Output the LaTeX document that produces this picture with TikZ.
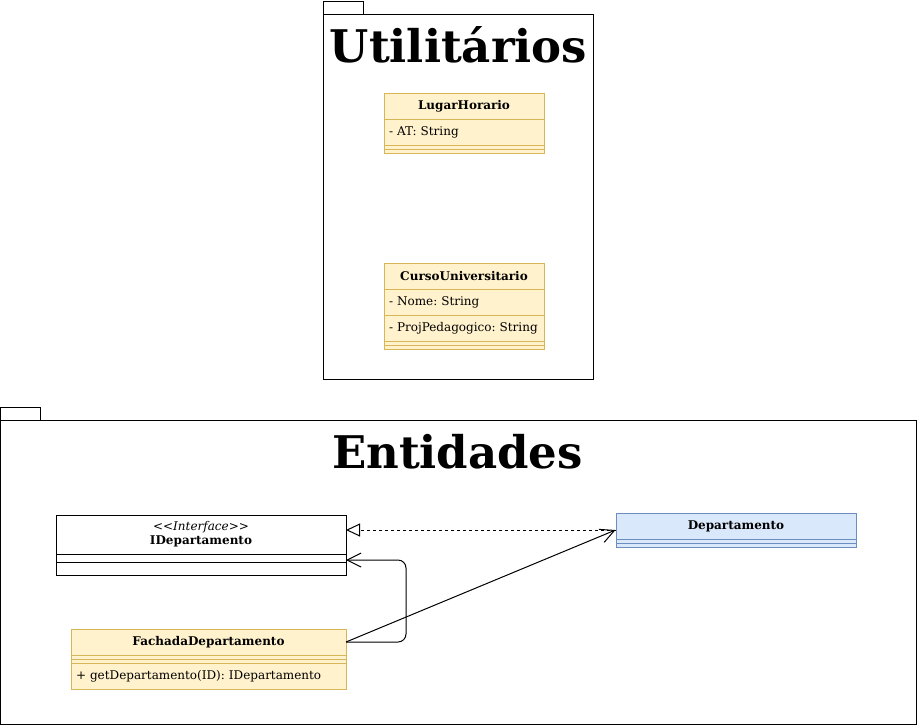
\documentclass[tikz,border=0pt]{standalone}
\usepackage{fontspec}
\setmainfont{DejaVu Serif}
\frenchspacing
\usetikzlibrary{positioning,arrows.meta,fit}
\definecolor{amarelo}{HTML}{FFF2CC}
\definecolor{amareloborda}{HTML}{D6B656}
\definecolor{azul}{HTML}{DAE8FC}
\definecolor{azulborda}{HTML}{6C8EBF}
\begin{document}
\begin{tikzpicture}[x=1pt,y=-1pt,line width=1pt,
  pacote/.style={draw=black},
  titulo/.style={font=\fontsize{45}{50}\selectfont\bfseries,inner sep=0pt,anchor=base},
  cabeca/.style={draw=amareloborda,fill=amarelo,minimum width=#1,minimum height=26pt,
    inner sep=0pt,outer sep=0pt,font=\fontsize{12}{14}\selectfont\bfseries},
  campo/.style={draw=amareloborda,fill=amarelo,minimum width=#1,text width={#1-10pt},
    align=left,minimum height=26pt,inner xsep=5pt,inner ysep=0pt,outer sep=0pt,
    font=\fontsize{12}{14}\selectfont},
  separa/.style={draw=amareloborda,fill=amarelo,minimum width=#1,minimum height=8pt,
    inner sep=0pt,outer sep=0pt},
  seta/.style={-{Straight Barb[length=14pt,width=14pt]}}]
\useasboundingbox (0,0) rectangle (917,726);

% pacote Utilitarios
\draw[pacote] (323.5,1.5) rectangle (363.5,14.5);
\draw[pacote] (323.5,14.5) rectangle (593.5,379.5);
\node[titulo] (tutil) at (458.5,62) {Utilitários};

\node[cabeca=160pt] (lugar) at (464,106) {LugarHorario};
\node[campo=160pt,below=0pt of lugar] (lugarAT) {- AT: String};
\node[separa=160pt,below=0pt of lugarAT] (lugarSep) {};
\draw[amareloborda] (lugarSep.west) -- (lugarSep.east);

\node[cabeca=160pt] (curso) at (464,276) {CursoUniversitario};
\node[campo=160pt,below=0pt of curso] (cursoNome) {- Nome: String};
\node[campo=160pt,below=0pt of cursoNome] (cursoProj) {- ProjPedagogico: String};
\node[separa=160pt,below=0pt of cursoProj] (cursoSep) {};
\draw[amareloborda] (cursoSep.west) -- (cursoSep.east);

% pacote Entidades
\draw[pacote] (0.5,407.5) rectangle (40.5,420.5);
\draw[pacote] (0.5,420.5) rectangle (916.5,724.5);
\node[titulo] (tent) at (457.5,468) {Entidades};

\node[cabeca=290pt,draw=black,fill=white,minimum height=39pt,align=center] (idep) at (201,534.5)
  {{\mdseries\itshape <\kern0pt<Interface>\kern0pt>}\\IDepartamento};
\node[separa=290pt,draw=black,fill=white,below=0pt of idep] (idepSep) {};
\node[separa=290pt,draw=black,fill=white,minimum height=13pt,below=0pt of idepSep] (idepMet) {};

\node[cabeca=240pt,draw=azulborda,fill=azul] (dep) at (736,526) {Departamento};
\node[separa=240pt,draw=azulborda,fill=azul,below=0pt of dep] (depSep) {};
\draw[azulborda] (depSep.west) -- (depSep.east);
\node[fit=(dep)(depSep),inner sep=0pt] (depBox) {};

\node[cabeca=275pt] (fachada) at (208.5,642) {FachadaDepartamento};
\node[separa=275pt,below=0pt of fachada] (fachadaSep) {};
\draw[amareloborda] (fachadaSep.west) -- (fachadaSep.east);
\node[campo=275pt,below=0pt of fachadaSep] (fachadaGet) {+ getDepartamento(ID): IDepartamento};

% conectores
\coordinate (volta) at (406,560);
\draw[dashed,-{Triangle[open,length=14pt,width=13pt]}] (depBox.west) -- (idep.east |- depBox.west);
\draw[seta,rounded corners=8pt] (fachada.east) -| (volta) -- (idep.east |- volta);
\draw[seta] (fachada.east) -- (depBox.west);
\end{tikzpicture}
\end{document}
